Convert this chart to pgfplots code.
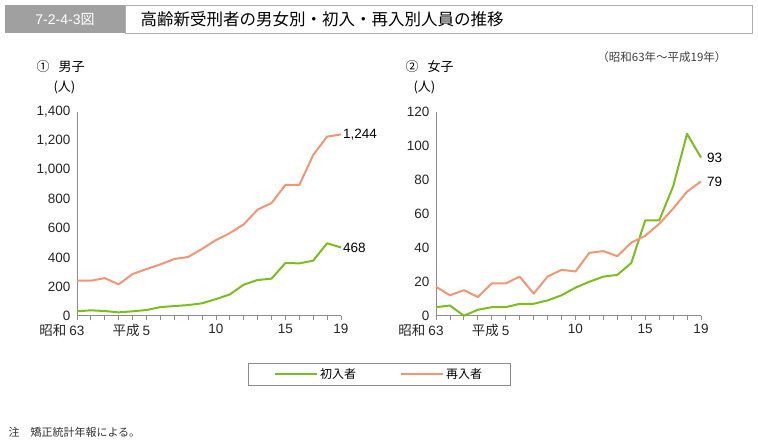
\documentclass[border=0pt]{standalone}
\usepackage{pgfplots}
\pgfplotsset{compat=1.18}
\usepackage{fontspec}
\setmainfont{Liberation Sans}
\newfontfamily\jp{Noto Sans CJK JP}
\definecolor{shoinyu}{RGB}{125,190,30}
\definecolor{sainyu}{RGB}{242,150,115}
\definecolor{axgray}{RGB}{140,140,140}
\definecolor{titlegray}{RGB}{160,160,160}

\pgfplotsset{
  panel/.style={
    scale only axis, width=264pt, height=204pt,
    xmin=0, xmax=19, ymin=0,
    enlargelimits=false, clip=false,
    axis x line*=bottom, axis y line*=left,
    axis line style={axgray, line width=0.8pt},
    xtick={0,5,10,15,19},
    minor xtick={1,...,18},
    xticklabels={{\llap{\jp 昭和 }63},{\llap{\jp 平成 }5},10,15,19},
    xtick align=outside,
    major tick length=4pt, minor tick length=4pt,
    xtick style={axgray, line width=0.8pt},
    minor tick style={axgray, line width=0.8pt},
    ytick style={draw=none},
    tick label style={font=\fontsize{13.5}{15}\selectfont, text=black!85},
    xticklabel style={yshift=-1pt},
    yticklabel style={xshift=-3pt},
    /pgf/number format/assume math mode=true,
    /pgf/number format/1000 sep={,},
    every axis plot/.append style={line width=2pt, line join=round},
  }
}

\begin{document}
\begin{tikzpicture}[x=1pt,y=1pt]
\useasboundingbox (0,0) rectangle (758,441);
% title bar
\fill[titlegray] (5,408) rectangle (125,436);
\draw[axgray!70, fill=white] (125,408) rectangle (752,436);
\node[white, font=\fontsize{14}{16}\selectfont] at (65,422) {7-2-4-3\jp 図};
\node[anchor=west, font=\fontsize{16.5}{18}\jp\selectfont] at (137,422) {高齢新受刑者の男女別・初入・再入別人員の推移};
\node[anchor=east, font=\fontsize{11.5}{13}\jp\selectfont, text=black!75] at (730,384) {（昭和63年～平成19年）};
% panel titles
\node[anchor=west, font=\fontsize{13}{15}\jp\selectfont] at (33,374) {①\hspace{9pt}男子};
\node[anchor=west, font=\fontsize{13}{15}\jp\selectfont] at (50,354) {(人)};
\node[anchor=west, font=\fontsize{13}{15}\jp\selectfont] at (402,374) {②\hspace{9pt}女子};
\node[anchor=west, font=\fontsize{13}{15}\jp\selectfont] at (410,354) {(人)};
% footnote
\node[anchor=west, font=\fontsize{11}{13}\jp\selectfont, text=black!80] at (5,9) {注\hspace{11pt}矯正統計年報による。};

\begin{axis}[panel, at={(77pt,125.3pt)}, ymax=1400, ytick={0,200,...,1400},
  legend style={at={(1.144,-0.288)}, anchor=center, draw=axgray, line width=0.6pt,
    legend columns=2, font=\fontsize{12}{14}\jp\selectfont,
    inner xsep=26pt, inner ysep=3pt,
    /tikz/every even column/.append style={column sep=42pt}},
  legend cell align=left,
  legend image code/.code={\draw[#1, line width=2pt] (0pt,0pt) -- (42pt,0pt);}]
\addplot[shoinyu] coordinates {(0,30) (1,37) (2,32) (3,23) (4,30) (5,39) (6,59) (7,66) (8,73) (9,85)
  (10,114) (11,146) (12,213) (13,245) (14,254) (15,362) (16,359) (17,378) (18,497) (19,468)};
\addplot[sainyu] coordinates {(0,240) (1,240) (2,258) (3,215) (4,286) (5,320) (6,352) (7,389) (8,403) (9,458)
  (10,519) (11,567) (12,627) (13,728) (14,773) (15,897) (16,897) (17,1103) (18,1229) (19,1244)};
\legend{初入者,再入者}
\node[anchor=west, font=\fontsize{13.5}{15}\selectfont, inner sep=2pt] at (axis cs:19,1244) {1,244};
\node[anchor=west, font=\fontsize{13.5}{15}\selectfont, inner sep=2pt] at (axis cs:19,468) {468};
\end{axis}

\begin{axis}[panel, at={(436pt,125.3pt)}, width=265pt, ymax=120, ytick={0,20,...,120}]
\addplot[shoinyu] coordinates {(0,5) (1,6) (2,0) (3,3.5) (4,5) (5,5) (6,7) (7,7) (8,9) (9,12)
  (10,16.5) (11,20) (12,23) (13,24) (14,31) (15,56) (16,56) (17,76) (18,107) (19,93)};
\addplot[sainyu] coordinates {(0,17) (1,12) (2,15) (3,11) (4,19) (5,19) (6,23) (7,13) (8,23) (9,27)
  (10,26) (11,37) (12,38) (13,35) (14,43) (15,47) (16,54) (17,63) (18,73) (19,79)};
\node[anchor=west, font=\fontsize{13.5}{15}\selectfont, inner sep=2pt] at (axis cs:19,93) {\hspace{4pt}93};
\node[anchor=west, font=\fontsize{13.5}{15}\selectfont, inner sep=2pt] at (axis cs:19,79) {\hspace{4pt}79};
\end{axis}
\end{tikzpicture}
\end{document}
